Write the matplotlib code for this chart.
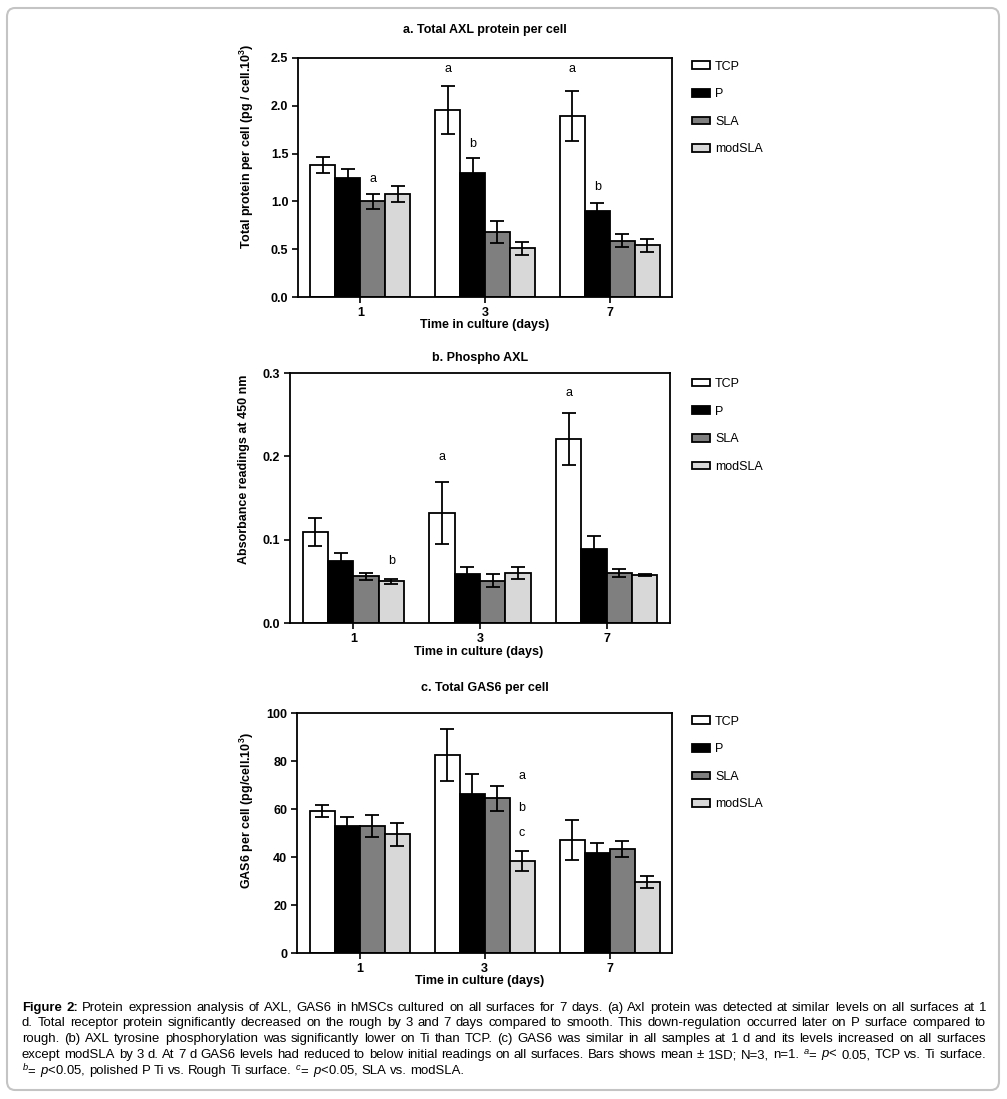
import numpy as np
import matplotlib
matplotlib.use("Agg")
import matplotlib.pyplot as plt
from matplotlib.patches import FancyBboxPatch
from matplotlib.ticker import FormatStrFormatter

########## Data ##########
days = ["1", "3", "7"]
surfaces = ["TCP", "P", "SLA", "modSLA"]
bar_colors = ["white", "black", "#7f7f7f", "#d8d8d8"]

# a. total AXL protein (rows = surfaces, cols = days)
axl_mean = [[1.38, 1.96, 1.89],
            [1.25, 1.30, 0.90],
            [1.00, 0.68, 0.59],
            [1.08, 0.51, 0.54]]
axl_sd = [[0.08, 0.25, 0.26],
          [0.085, 0.15, 0.08],
          [0.08, 0.12, 0.07],
          [0.085, 0.07, 0.065]]
axl_notes = [(0, 1, "a", 2.38), (1, 1, "b", 1.60), (0, 2, "a", 2.38),
             (1, 2, "b", 1.15), (2, 0, "a", 1.23)]

# b. phospho AXL
pax_mean = [[0.109, 0.132, 0.221],
            [0.074, 0.059, 0.089],
            [0.056, 0.051, 0.060],
            [0.050, 0.060, 0.058]]
pax_sd = [[0.017, 0.037, 0.031],
          [0.010, 0.008, 0.016],
          [0.004, 0.0075, 0.005],
          [0.003, 0.007, 0.001]]
pax_notes = [(0, 1, "a", 0.199), (0, 2, "a", 0.276), (3, 0, "b", 0.075)]

# c. total GAS6
gas_mean = [[59.2, 82.5, 47.1],
            [52.8, 66.2, 41.5],
            [52.8, 64.4, 43.3],
            [49.4, 38.5, 29.6]]
gas_sd = [[2.6, 10.7, 8.4],
          [3.8, 8.2, 4.3],
          [4.5, 5.1, 3.5],
          [4.8, 4.2, 2.6]]
gas_notes = [(3, 1, "a", 73.6), (3, 1, "b", 60.6), (3, 1, "c", 50.0)]

# "**" marks a bold word
caption = [
    r"**Figure **2: Protein expression analysis of AXL, GAS6 in hMSCs cultured on all surfaces for 7 days. (a) Axl protein was detected at similar levels on all surfaces at 1",
    r"d. Total receptor protein significantly decreased on the rough by 3 and 7 days compared to smooth. This down-regulation occurred later on P surface compared to",
    r"rough. (b) AXL tyrosine phosphorylation was significantly lower on Ti than TCP. (c) GAS6 was similar in all samples at 1 d and its levels increased on all surfaces",
    r"except modSLA by 3 d. At 7 d GAS6 levels had reduced to below initial readings on all surfaces. Bars shows mean ± 1SD; N=3, n=1. $^{a}$= $\mathit{p}$< 0.05, TCP vs. Ti surface.",
    r"$^{b}$= $\mathit{p}$<0.05, polished P Ti vs. Rough Ti surface. $^{c}$= $\mathit{p}$<0.05, SLA vs. modSLA.",
]

########## Style ##########
plt.rcParams['font.family'] = ['Liberation Sans', 'DejaVu Sans']
plt.rcParams['mathtext.fontset'] = 'custom'
plt.rcParams['mathtext.rm'] = 'Liberation Sans'
plt.rcParams['mathtext.it'] = 'Liberation Sans:italic'
plt.rcParams['mathtext.bf'] = 'Liberation Sans:bold'

W, H = 1007, 1099
FS = 9
fig = plt.figure(figsize=(W / 100, H / 100), dpi=100)
renderer = fig.canvas.get_renderer()


def px_axes(left, top, right, bottom):
    return fig.add_axes([left / W, 1 - bottom / H, (right - left) / W, (bottom - top) / H])


def draw_panel(ax, means, sds, notes, ylim, yticks, fmt, leg_mid):
    x = np.arange(len(days))
    width = 0.2
    handles = []
    for i, s in enumerate(surfaces):
        pos = x + (i - 1.5) * width
        b = ax.bar(pos, means[i], width, color=bar_colors[i], edgecolor='black',
                   linewidth=1.3, label=s, zorder=2)
        handles.append(b)
        ax.errorbar(pos, means[i], yerr=sds[i], fmt='none', ecolor='black',
                    elinewidth=1.3, capsize=5, capthick=1.3, zorder=3)
    for i, d, txt, y in notes:
        ax.text(d + (i - 1.5) * width, y, txt, ha='center', va='center', fontsize=FS)
    ax.set_xlim(-0.5, 2.5)
    ax.set_ylim(*ylim)
    ax.set_xticks(x)
    ax.set_xticklabels(days)
    ax.set_yticks(yticks)
    ax.yaxis.set_major_formatter(FormatStrFormatter(fmt))
    ax.tick_params(direction='out', length=4, width=1.2, labelsize=FS, pad=3)
    for lab in ax.get_xticklabels() + ax.get_yticklabels():
        lab.set_fontweight('bold')
    for sp in ax.spines.values():
        sp.set_linewidth(1.3)
    ax.legend(handles=handles, labels=surfaces, loc='center left',
              bbox_to_anchor=(692 / W, 1 - leg_mid / H), bbox_transform=fig.transFigure,
              frameon=False, fontsize=FS, handlelength=1.4, handleheight=0.55,
              handletextpad=0.45, labelspacing=1.25, borderpad=0, borderaxespad=0)


def fig_label(x, y, s, **kw):
    fig.text(x / W, 1 - y / H, s, ha='center', va='center', fontsize=FS, fontweight='bold', **kw)


# a
ax1 = px_axes(298, 58, 672, 297)
draw_panel(ax1, axl_mean, axl_sd, axl_notes, (0, 2.5), [0, 0.5, 1.0, 1.5, 2.0, 2.5], '%.1f', 108)
fig_label(485, 30, "a. Total AXL protein per cell")
fig_label(247, 146, r"Total protein per cell (pg / cell.10$^\mathbf{3}$)", rotation=90)
fig_label(485, 325, "Time in culture (days)")

# b
ax2 = px_axes(290, 373, 670, 623)
draw_panel(ax2, pax_mean, pax_sd, pax_notes, (0, 0.3), [0, 0.1, 0.2, 0.3], '%.1f', 425.5)
fig_label(480, 358, "b. Phospho AXL")
fig_label(244, 469, "Absorbance readings at 450 nm", rotation=90)
fig_label(479, 652, "Time in culture (days)")

# c
ax3 = px_axes(297, 713, 672, 953)
draw_panel(ax3, gas_mean, gas_sd, gas_notes, (0, 100), [0, 20, 40, 60, 80, 100], '%d', 763)
fig_label(485, 688, "c. Total GAS6 per cell")
fig_label(247, 811, r"GAS6 per cell (pg/cell.10$^\mathbf{3}$)", rotation=90)
fig_label(480, 981, "Time in culture (days)")

########## Caption (justified) ##########
x0, x1 = 22, 986
line_y = [1008, 1023, 1039, 1055, 1071]


def make_line(line, y, fs):
    items = []
    for tok in line.split(" "):
        bold = tok.startswith("**")
        parts = tok[2:].split("**") if bold else [tok]
        for k, p in enumerate(parts):
            if p:
                t = fig.text(0, 1 - y / H, p, fontsize=fs, ha='left', va='center',
                             fontweight='bold' if (bold and k == 0) else 'normal')
                items.append((t, k > 0))
    return items


def text_width(s, fs):
    t = fig.text(0, 0, s, fontsize=fs)
    w = t.get_window_extent(renderer).width
    t.remove()
    return w


# size the caption so the longest line just fits with normal spaces
space = text_width("a b", 10) - 2 * text_width("a", 10)
natural = []
for n, line in enumerate(caption[:-1]):
    items = make_line(line, line_y[n], 10)
    natural.append(sum(t.get_window_extent(renderer).width for t, _ in items) + space * (len(items) - 1))
    for t, _ in items:
        t.remove()
cap_fs = 10 * (x1 - x0 - 6) / max(natural)

for n, line in enumerate(caption):
    items = make_line(line, line_y[n], cap_fs)
    widths = [t.get_window_extent(renderer).width for t, _ in items]
    nspace = sum(1 for _, glued in items[1:] if not glued)
    if n < len(caption) - 1:
        gap = (x1 - x0 - sum(widths)) / nspace
    else:
        gap = space * cap_fs / 10
    xp = x0
    for j, (t, glued) in enumerate(items):
        if j > 0 and not glued:
            xp += gap
        t.set_x(xp / W)
        xp += widths[j]

# rounded frame around the figure
frame = FancyBboxPatch((7 / W, 1 - 1090 / H), 992 / W, 1082 / H,
                       boxstyle="round,pad=0,rounding_size=0.008",
                       transform=fig.transFigure, facecolor='none',
                       edgecolor='#c4c4c4', linewidth=1.5)
fig.patches.append(frame)

fig.savefig("out.png", dpi=100)
